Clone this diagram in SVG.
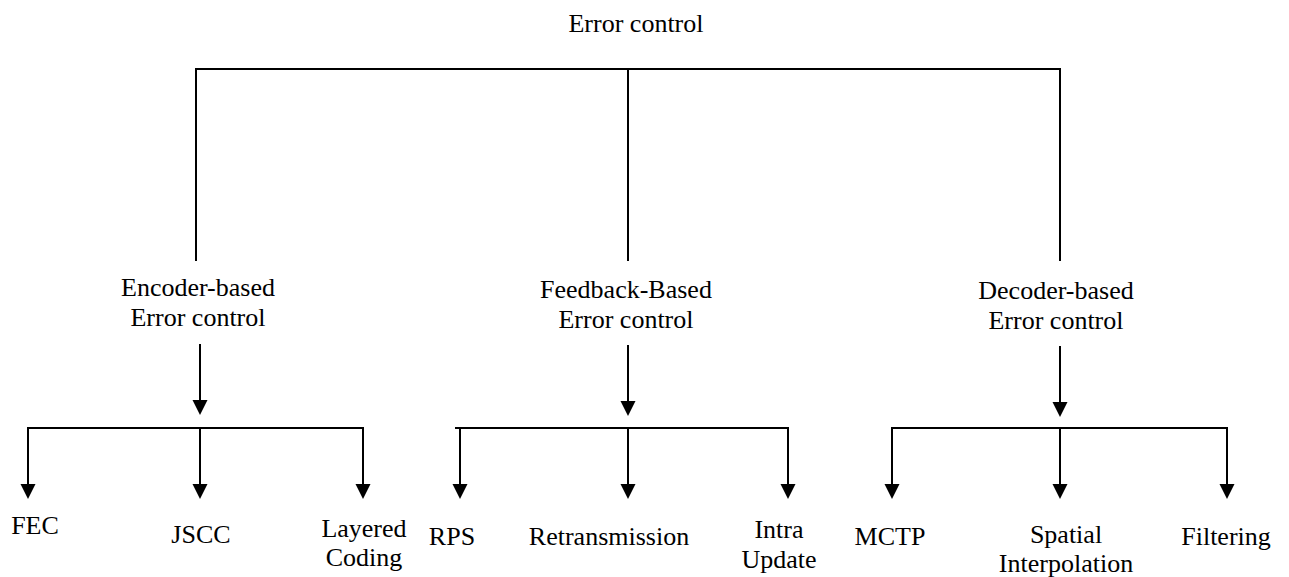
<svg xmlns="http://www.w3.org/2000/svg" width="1289" height="577" viewBox="0 0 1289 577">
  <style>
    text { font-family: 'Liberation Serif', 'Times New Roman', 'DejaVu Serif', serif; font-size: 26px; fill: #000; text-anchor: middle; }
    .ln { stroke: #000; stroke-width: 2; fill: none; }
  </style>
  <defs>
    <marker id="ah" markerUnits="userSpaceOnUse" markerWidth="16" markerHeight="16" refX="0" refY="7.5" orient="auto">
      <path d="M0,0 L15,7.5 L0,15 Z" fill="#000"/>
    </marker>
  </defs>
  <rect width="1289" height="577" fill="#fff"/>

  <g id="connectors">
    <path class="ln" d="M196,261 V69 H1060 V261"/>
    <line class="ln" x1="628" y1="69" x2="628" y2="261"/>
    <line class="ln" x1="200" y1="344" x2="200" y2="400" marker-end="url(#ah)"/>
    <line class="ln" x1="628" y1="345" x2="628" y2="401" marker-end="url(#ah)"/>
    <line class="ln" x1="1060" y1="346" x2="1060" y2="402" marker-end="url(#ah)"/>
    <line class="ln" x1="27" y1="428" x2="364" y2="428"/>
    <line class="ln" x1="28" y1="428" x2="28" y2="484" marker-end="url(#ah)"/>
    <line class="ln" x1="200" y1="428" x2="200" y2="484" marker-end="url(#ah)"/>
    <line class="ln" x1="363" y1="428" x2="363" y2="484" marker-end="url(#ah)"/>
    <line class="ln" x1="455" y1="428" x2="789" y2="428"/>
    <line class="ln" x1="460" y1="428" x2="460" y2="484" marker-end="url(#ah)"/>
    <line class="ln" x1="628" y1="428" x2="628" y2="484" marker-end="url(#ah)"/>
    <line class="ln" x1="788" y1="428" x2="788" y2="484" marker-end="url(#ah)"/>
    <line class="ln" x1="891" y1="428" x2="1228" y2="428"/>
    <line class="ln" x1="892" y1="428" x2="892" y2="484" marker-end="url(#ah)"/>
    <line class="ln" x1="1060" y1="428" x2="1060" y2="484" marker-end="url(#ah)"/>
    <line class="ln" x1="1227" y1="428" x2="1227" y2="484" marker-end="url(#ah)"/>
  </g>

  <g id="root"><text x="636" y="32">Error control</text></g>

  <g id="encoder">
    <text x="198" y="296">Encoder-based</text>
    <text x="198" y="326">Error control</text>
  </g>
  <g id="feedback">
    <text x="626" y="298">Feedback-Based</text>
    <text x="626" y="328">Error control</text>
  </g>
  <g id="decoder">
    <text x="1056" y="299">Decoder-based</text>
    <text x="1056" y="329">Error control</text>
  </g>

  <g id="fec"><text x="35" y="534">FEC</text></g>
  <g id="jscc"><text x="201" y="543">JSCC</text></g>
  <g id="layered">
    <text x="364" y="537">Layered</text>
    <text x="364" y="566">Coding</text>
  </g>

  <g id="rps"><text x="452" y="545">RPS</text></g>
  <g id="retransmission"><text x="609" y="545">Retransmission</text></g>
  <g id="intra">
    <text x="779" y="538">Intra</text>
    <text x="779" y="568">Update</text>
  </g>

  <g id="mctp"><text x="890" y="545">MCTP</text></g>
  <g id="spatial">
    <text x="1066" y="543">Spatial</text>
    <text x="1066" y="572">Interpolation</text>
  </g>
  <g id="filtering"><text x="1226" y="545">Filtering</text></g>
</svg>
